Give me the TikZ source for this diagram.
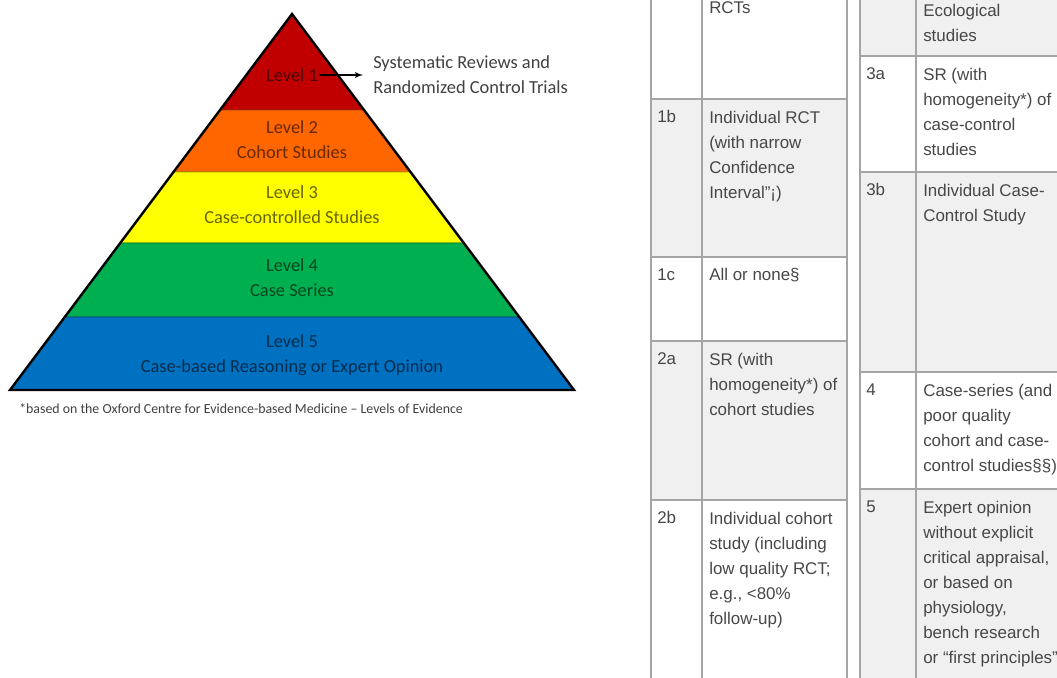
\documentclass[tikz,border=0pt]{standalone}
\usepackage{fontspec}
\usepackage{tikz}
\usetikzlibrary{arrows}
\newfontfamily\pyrfont{Carlito}
\newfontfamily\tabfont{Liberation Sans}
\definecolor{lvred}{RGB}{192,0,0}
\definecolor{lvorange}{RGB}{255,102,0}
\definecolor{lvyellow}{RGB}{255,255,0}
\definecolor{lvgreen}{RGB}{0,176,80}
\definecolor{lvblue}{RGB}{0,112,192}
\definecolor{rowgrey}{RGB}{240,240,240}
\definecolor{linegrey}{RGB}{165,165,165}

\begin{document}
\begin{tikzpicture}[x=0.75pt,y=-0.75pt]
		\tikzset{band/.style = {fill=#1, draw=#1!65!black, line width=0.6pt}}
		\tikzset{bandtext/.style = {text=#1!40!black, align=center, font=\pyrfont\fontsize{13.8}{18.75}\selectfont}}
		\tikzset{greyrow/.style = {fill=rowgrey}}
		\tikzset{tabline/.style = {draw=linegrey, line width=1.3pt}}
		\tikzset{tabcell/.style = {anchor=north west, inner sep=0pt, align=left, text=black!72, font=\tabfont\fontsize{12.7}{18.75}\selectfont, execute at begin node=\strut}}
		\useasboundingbox (0,0) rectangle (1057,678);
		\clip (0,0) rectangle (1057,678);
		% pyramid
		\draw[band=lvred] (292,14) -- (364,110) -- (220,110) -- cycle;
		\draw[band=lvorange] (220,110) -- (364,110) -- (410.5,172) -- (173.5,172) -- cycle;
		\draw[band=lvyellow] (173.5,172) -- (410.5,172) -- (464,243) -- (120,243) -- cycle;
		\draw[band=lvgreen] (120,243) -- (464,243) -- (519.25,317) -- (64.75,317) -- cycle;
		\draw[band=lvblue] (64.75,317) -- (519.25,317) -- (574,390) -- (10,390) -- cycle;
		\draw[line width=1.8pt, line join=miter] (292,14) -- (574,390) -- (10,390) -- cycle;
		% levels
		\node[bandtext=lvred] (l1) at (292,75) {Level 1};
		\node[bandtext=lvorange] (l2) at (292,139.5) {Level 2\\Cohort Studies};
		\node[bandtext=lvyellow] (l3) at (292,205) {Level 3\\Case-controlled Studies};
		\node[bandtext=lvgreen] (l4) at (292,277.5) {Level 4\\Case Series};
		\node[bandtext=lvblue] (l5) at (292,355.5) {Level 5\\Case-based Reasoning or Expert Opinion};
		\node[anchor=west, inner sep=0pt, align=left, text=black!75, font=\pyrfont\fontsize{13.8}{18.75}\selectfont] (sr) at (373,75) {Systematic Reviews and\\Randomized Control Trials};
		\draw[->, >=latex', line width=1.1pt, shorten <=-3pt, shorten >=7.5pt] (l1) -- (sr);
		\node[anchor=west, inner sep=0pt, text=black!75, font=\pyrfont\fontsize{10.4}{12}\selectfont] (note) at (19,409) {*based on the Oxford Centre for Evidence-based Medicine – Levels of Evidence};
		% left table
		\fill[greyrow] (651,99) rectangle (847,257);
		\fill[greyrow] (651,341) rectangle (847,500);
		\foreach \y in {99,257,341,500} \draw[tabline] (651,\y) -- (847,\y);
		\foreach \x in {651,702,847} \draw[tabline] (\x,-5) -- (\x,690);
		\node[tabcell] (t1a) at (709,-4) {RCTs};
		\node[tabcell] (n1b) at (657,105) {1b};
		\node[tabcell] (t1b) at (709,111) {Individual RCT\\(with narrow\\Confidence\\Interval”¡)};
		\node[tabcell] (n1c) at (657,263) {1c};
		\node[tabcell] (t1c) at (709,263) {All or none§};
		\node[tabcell] (n2a) at (657,347) {2a};
		\node[tabcell] (t2a) at (709,353) {SR (with\\homogeneity*) of\\cohort studies};
		\node[tabcell] (n2b) at (657,506) {2b};
		\node[tabcell] (t2b) at (709,512) {Individual cohort\\study (including\\low quality RCT;\\e.g., <80\%\\follow-up)};
		% right table
		\fill[greyrow] (860,-5) rectangle (1070,56);
		\fill[greyrow] (860,172) rectangle (1070,372);
		\fill[greyrow] (860,489) rectangle (1070,690);
		\foreach \y in {56,172,372,489} \draw[tabline] (860,\y) -- (1070,\y);
		\foreach \x in {860,916} \draw[tabline] (\x,-5) -- (\x,690);
		\node[tabcell] (t2c) at (923,4) {Ecological\\studies};
		\node[tabcell] (n3a) at (866,62) {3a};
		\node[tabcell] (t3a) at (923,68) {SR (with\\homogeneity*) of\\case-control\\studies};
		\node[tabcell] (n3b) at (866,178) {3b};
		\node[tabcell] (t3b) at (923,184) {Individual Case-\\Control Study};
		\node[tabcell] (n4) at (866,378) {4};
		\node[tabcell] (t4) at (923,384) {Case-series (and\\poor quality\\cohort and case-\\control studies§§)};
		\node[tabcell] (n5) at (866,495) {5};
		\node[tabcell] (t5) at (923,501) {Expert opinion\\without explicit\\critical appraisal,\\or based on\\physiology,\\bench research\\or “first principles”};
\end{tikzpicture}
\end{document}
